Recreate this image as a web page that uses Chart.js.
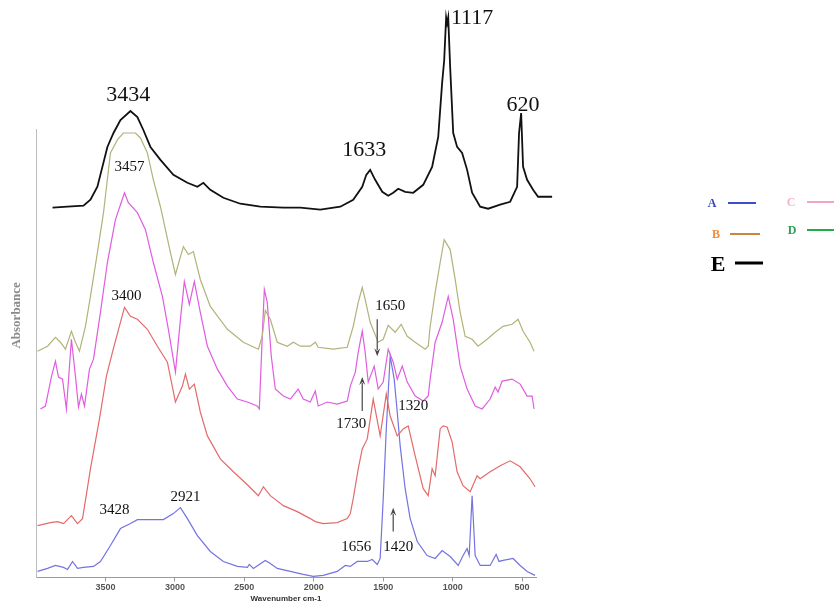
<!DOCTYPE html>
<html><head><meta charset="utf-8">
<script src="https://cdn.jsdelivr.net/npm/chart.js@4/dist/chart.umd.min.js"></script>
<style>html,body{margin:0;padding:0;background:#fff}#wrap{width:834px;height:604px;position:relative}</style>
</head><body><div id="wrap"><canvas id="c"></canvas></div>
<script>
// ---- data (wavenumber cm-1 / absorbance, arbitrary offset units) ----
const tickValues = [500, 1000, 1500, 2000, 2500, 3000, 3500];

const waveA = [3989,3917,3860,3802,3773,3737,3701,3658,3586,3536,3464,3392,3320,3270,3176,3083,3011,2960,2910,2838,2745,2651,2550,2478,2464,2435,2349,2313,2263,2169,2076,2004,1932,1831,1773,1737,1687,1615,1579,1543,1522,1500,1478,1450,1421,1399,1378,1342,1306,1255,1184,1126,1076,1018,960,925,896,881,860,838,802,730,687,666,637,565,514,464,407];
const absA  = [0.06,0.09,0.12,0.10,0.08,0.16,0.09,0.10,0.11,0.16,0.32,0.49,0.54,0.58,0.58,0.58,0.64,0.70,0.59,0.42,0.26,0.16,0.11,0.10,0.13,0.09,0.17,0.14,0.09,0.06,0.03,0.01,0.02,0.06,0.12,0.11,0.16,0.16,0.18,0.13,0.19,0.79,1.49,2.22,1.99,1.66,1.32,0.89,0.59,0.36,0.22,0.19,0.27,0.21,0.12,0.22,0.29,0.22,0.82,0.22,0.12,0.12,0.23,0.16,0.17,0.19,0.12,0.06,0.02];

const waveB = [3989,3896,3845,3802,3745,3701,3665,3608,3543,3493,3442,3363,3320,3270,3198,3126,3054,2996,2946,2924,2896,2860,2817,2766,2673,2579,2478,2399,2363,2313,2219,2119,2025,1989,1932,1831,1759,1737,1716,1680,1651,1615,1572,1522,1478,1450,1399,1356,1320,1270,1212,1176,1148,1126,1090,1068,1040,1004,968,925,874,824,802,730,658,586,514,443,407];
const absB  = [0.52,0.55,0.56,0.54,0.62,0.54,0.59,1.09,1.59,2.02,2.30,2.71,2.62,2.59,2.49,2.32,2.16,1.76,1.92,2.04,1.89,1.94,1.66,1.42,1.19,1.06,0.93,0.82,0.91,0.82,0.72,0.66,0.59,0.56,0.54,0.55,0.59,0.64,0.79,1.09,1.29,1.39,1.79,1.42,1.84,1.62,1.42,1.49,1.52,1.22,0.89,0.82,1.09,1.02,1.49,1.52,1.51,1.36,1.06,0.92,0.86,1.02,0.99,1.06,1.12,1.17,1.11,0.99,0.91];

const waveC = [3968,3932,3888,3860,3838,3809,3781,3745,3716,3694,3673,3651,3615,3586,3536,3486,3428,3392,3363,3335,3270,3212,3155,3090,3047,2996,2960,2932,2896,2860,2817,2766,2694,2622,2550,2478,2407,2392,2371,2356,2335,2306,2277,2219,2169,2112,2076,2025,1989,1968,1903,1831,1759,1737,1701,1680,1651,1630,1608,1565,1536,1500,1464,1428,1399,1363,1327,1270,1212,1176,1162,1126,1076,1032,996,946,896,838,788,730,694,673,644,572,514,464,428,414];
const absC  = [1.69,1.72,2.02,2.17,2.01,1.99,1.69,2.39,2.02,1.71,1.84,1.72,2.09,2.19,2.66,3.16,3.59,3.74,3.86,3.76,3.66,3.49,3.16,2.82,2.49,2.06,2.59,2.97,2.74,2.97,2.66,2.32,2.09,1.92,1.79,1.76,1.72,1.69,2.42,2.89,2.76,2.22,1.89,1.82,1.79,1.89,1.79,1.76,1.87,1.72,1.76,1.74,1.77,1.92,2.06,2.26,2.47,2.26,1.96,2.12,1.89,1.96,2.29,2.16,1.99,2.12,1.96,1.82,1.77,1.82,1.99,2.36,2.56,2.82,2.59,2.12,1.89,1.72,1.69,1.79,1.91,1.86,1.97,1.99,1.94,1.82,1.82,1.69];

const waveD = [3989,3917,3860,3824,3788,3745,3716,3687,3644,3608,3558,3514,3464,3414,3371,3284,3248,3198,3155,3104,3032,2996,2960,2939,2903,2867,2817,2745,2622,2507,2399,2371,2349,2313,2263,2191,2147,2097,2025,1989,1968,1860,1759,1716,1680,1651,1630,1594,1536,1500,1464,1414,1371,1327,1270,1198,1176,1162,1126,1090,1061,1018,982,946,910,860,817,752,694,637,572,529,493,443,414];
const absD  = [2.27,2.32,2.41,2.36,2.29,2.47,2.36,2.27,2.52,2.82,3.26,3.66,4.26,4.39,4.46,4.46,4.41,4.26,3.99,3.72,3.26,3.04,3.22,3.32,3.24,3.27,2.99,2.72,2.49,2.36,2.29,2.42,2.68,2.59,2.36,2.32,2.36,2.32,2.32,2.36,2.31,2.29,2.31,2.52,2.76,2.91,2.79,2.56,2.36,2.39,2.53,2.46,2.54,2.42,2.36,2.29,2.32,2.52,2.86,3.16,3.39,3.29,2.99,2.66,2.42,2.39,2.32,2.39,2.46,2.52,2.54,2.59,2.47,2.36,2.27];

const waveE = [3881,3773,3658,3608,3558,3522,3486,3442,3392,3320,3270,3227,3176,3104,3011,2910,2838,2795,2745,2651,2529,2385,2219,2097,1953,1809,1716,1651,1622,1594,1558,1507,1464,1428,1392,1342,1284,1212,1148,1104,1076,1061,1047,1040,1032,1018,996,968,932,896,860,802,745,658,586,536,522,507,493,464,421,385,284];
const absE  = [3.71,3.72,3.73,3.79,3.92,4.12,4.32,4.46,4.59,4.68,4.62,4.49,4.32,4.19,4.04,3.96,3.92,3.96,3.89,3.81,3.75,3.72,3.71,3.71,3.69,3.72,3.79,3.92,4.04,4.09,3.99,3.87,3.83,3.86,3.90,3.87,3.86,3.94,4.12,4.42,4.96,5.19,5.62,5.56,5.62,5.12,4.46,4.32,4.26,4.09,3.86,3.72,3.70,3.74,3.77,3.92,4.46,4.66,4.12,3.99,3.89,3.82,3.82];

// peak annotations (text, wavenumber, absorbance)
const majorLabels = ['3434', '1117', '620', '1633'];
const majorWave   = [3335, 860, 493, 1637];
const majorAbs    = [4.84, 5.61, 4.74, 4.29];
const minorLabels = ['3457', '3400', '1650', '1730', '1320', '3428', '2921', '1656', '1420'];
const minorWave   = [3327, 3349, 1450, 1730, 1284, 3435, 2924, 1694, 1392];
const minorAbs    = [4.12, 2.82, 2.72, 1.54, 1.72, 0.68, 0.81, 0.30, 0.30];
// arrows (wavenumber, tail absorbance, head absorbance)
const arrowWave = [1543, 1651, 1428];
const arrowFrom = [2.59, 1.67, 0.46];
const arrowTo   = [2.22, 2.01, 0.70];

const legendLabels = ['A', 'B', 'C', 'D', 'E'];
const axisTitleY = 'Absorbance';
const axisTitleX = 'Wavenumber cm-1';

// ---- chart ----
const pts = (w, a) => w.map((x, i) => ({x: x, y: a[i]}));
const common = {pointRadius: 0, fill: false, tension: 0, clip: false};
const datasets = [
  Object.assign({label: 'E', data: pts(waveE, absE), borderColor: '#111111', borderWidth: 1.8}, common),
  Object.assign({label: 'D', data: pts(waveD, absD), borderColor: '#b2b27a', borderWidth: 1.2}, common),
  Object.assign({label: 'C', data: pts(waveC, absC), borderColor: '#e05ce0', borderWidth: 1.2}, common),
  Object.assign({label: 'B', data: pts(waveB, absB), borderColor: '#e46a6a', borderWidth: 1.2}, common),
  Object.assign({label: 'A', data: pts(waveA, absA), borderColor: '#7373e2', borderWidth: 1.2}, common)
];

const serif = '"Liberation Serif", "DejaVu Serif", serif';

const annot = {
  id: 'annot',
  afterDatasetsDraw(chart) {
    const ctx = chart.ctx, xs = chart.scales.x, ys = chart.scales.y;
    ctx.save();
    ctx.fillStyle = '#111';
    ctx.textAlign = 'center';
    ctx.textBaseline = 'middle';
    ctx.font = '22px ' + serif;
    majorLabels.forEach((t, i) => ctx.fillText(t, xs.getPixelForValue(majorWave[i]), ys.getPixelForValue(majorAbs[i])));
    ctx.font = '15px ' + serif;
    minorLabels.forEach((t, i) => ctx.fillText(t, xs.getPixelForValue(minorWave[i]), ys.getPixelForValue(minorAbs[i])));
    // arrows
    ctx.strokeStyle = '#555';
    ctx.fillStyle = '#444';
    ctx.lineWidth = 1.3;
    arrowWave.forEach((w, i) => {
      const x = xs.getPixelForValue(w);
      const y0 = ys.getPixelForValue(arrowFrom[i]);
      const y1 = ys.getPixelForValue(arrowTo[i]);
      const dir = y1 > y0 ? 1 : -1;
      ctx.beginPath();
      ctx.moveTo(x, y0);
      ctx.lineTo(x, y1 - dir * 6);
      ctx.stroke();
      ctx.beginPath();
      ctx.moveTo(x, y1);
      ctx.lineTo(x - 3, y1 - dir * 8);
      ctx.lineTo(x, y1 - dir * 5);
      ctx.lineTo(x + 3, y1 - dir * 8);
      ctx.closePath();
      ctx.fill();
    });
    // y axis title
    ctx.save();
    ctx.translate(chart.chartArea.left - 19, ys.getPixelForValue(2.63));
    ctx.rotate(-Math.PI / 2);
    ctx.fillStyle = '#8a8a8a';
    ctx.font = 'bold 13px ' + serif;
    ctx.fillText(axisTitleY, 0, 0);
    ctx.restore();
    ctx.restore();
  },
  afterDraw(chart) {
    const ctx = chart.ctx;
    const txtCol = {A: '#3a46b6', B: '#f08a3c', C: '#f5b3cf', D: '#2a9e50', E: '#000000'};
    const lineCol = {A: '#3c4fc8', B: '#c98640', C: '#f0a6cb', D: '#22ad48', E: '#000000'};
    const pos = {A: [712, 204, 728, 756], B: [716, 235, 730, 760], C: [791, 203, 807, 834], D: [792, 231, 807, 834], E: [718, 264, 735, 763]};
    ctx.save();
    ctx.textAlign = 'center';
    ctx.textBaseline = 'middle';
    legendLabels.forEach(l => {
      const p = pos[l];
      ctx.fillStyle = txtCol[l];
      ctx.font = (l === 'E' ? 'bold 22px ' : 'bold 12px ') + serif;
      ctx.fillText(l, p[0], p[1] + (l === 'E' ? 1 : 0));
      ctx.strokeStyle = lineCol[l];
      ctx.lineWidth = l === 'E' ? 3 : 2;
      ctx.beginPath();
      ctx.moveTo(p[2], p[1] - 1);
      ctx.lineTo(p[3], p[1] - 1);
      ctx.stroke();
    });
    ctx.restore();
  }
};

new Chart(document.getElementById('c'), {
  type: 'line',
  data: {datasets: datasets},
  plugins: [annot],
  options: {
    responsive: true,
    maintainAspectRatio: false,
    animation: false,
    layout: {padding: {left: 36, right: 298, top: 129, bottom: 0}},
    plugins: {legend: {display: false}, tooltip: {enabled: false}},
    scales: {
      x: {
        type: 'linear', reverse: true, min: 400, max: 4000,
        afterBuildTicks: s => { s.ticks = tickValues.map(v => ({value: v})); },
        grid: {display: true, drawOnChartArea: false, drawTicks: true, tickLength: 4, color: '#9a9a9a'},
        border: {display: true, color: '#9a9a9a', width: 1},
        ticks: {color: '#555', autoSkip: false, maxRotation: 0, padding: 2,
                font: {family: 'Liberation Sans', size: 9, weight: 'bold', lineHeight: 1},
                callback: v => String(v)},
        title: {display: true, text: axisTitleX, color: '#333', padding: 0,
                font: {family: 'Liberation Sans', size: 8, weight: 'bold', lineHeight: 1.2}}
      },
      y: {
        type: 'linear', min: 0, max: 4.5,
        grid: {display: false, drawTicks: false},
        border: {display: true, color: '#bdbdbd', width: 1},
        ticks: {display: false}
      }
    }
  }
});
</script>
</body></html>
